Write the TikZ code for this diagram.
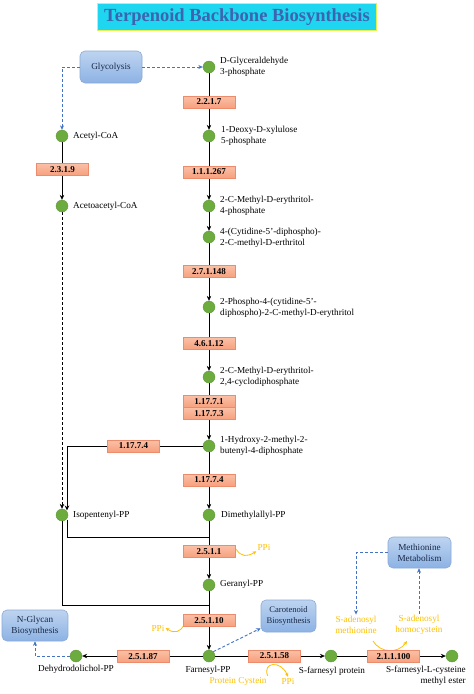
\documentclass[tikz,border=0pt]{standalone}
\usepackage{fontspec}
\setmainfont{Liberation Serif}
\usetikzlibrary{arrows.meta,calc}
\definecolor{nodegreen}{RGB}{108,172,62}
\definecolor{enzborder}{RGB}{236,140,108}
\definecolor{enztop}{RGB}{251,192,166}
\definecolor{enzbot}{RGB}{246,160,126}
\definecolor{boxborder}{RGB}{140,170,215}
\definecolor{boxtop}{RGB}{190,212,240}
\definecolor{boxbot}{RGB}{140,178,228}
\definecolor{boxtext}{RGB}{25,40,70}
\definecolor{dashblue}{RGB}{68,114,196}
\definecolor{gold}{RGB}{255,192,0}
\definecolor{titlefill}{RGB}{30,214,240}
\definecolor{titleborder}{RGB}{228,240,80}
\definecolor{titletext}{RGB}{60,100,176}
\begin{document}
\begin{tikzpicture}[x=1pt,y=-1pt,
 met/.style={circle,fill=nodegreen,draw=nodegreen!85!black,line width=0.3pt,minimum size=12pt,inner sep=0pt},
 enz/.style={rectangle,draw=enzborder,line width=0.5pt,top color=enztop,bottom color=enzbot,minimum width=52pt,minimum height=12pt,inner sep=0pt,font=\fontsize{9}{10}\selectfont\bfseries},
 lab/.style={anchor=west,align=left,inner sep=0pt,font=\fontsize{9.2}{11}\selectfont},
 clab/.style={align=center,inner sep=0pt,font=\fontsize{9.2}{11}\selectfont},
 goldlab/.style={align=center,inner sep=1pt,text=gold,font=\fontsize{9.2}{11}\selectfont},
 pbox/.style={rounded corners=5pt,draw=boxborder,line width=0.6pt,top color=boxtop,bottom color=boxbot,align=center,font=\fontsize{9.2}{11}\selectfont,text=boxtext,inner sep=0pt},
 solidarrow/.style={-{Stealth[length=5pt,width=4.5pt]},line width=0.9pt},
 plainline/.style={line width=0.9pt},
 blinkarrow/.style={-{Stealth[length=4.5pt,width=4pt]},dashblue,line width=0.9pt,dash pattern=on 3pt off 2pt},
 goldarrow/.style={-{Stealth[length=4pt,width=3.5pt]},gold,line width=0.8pt}
 ]
\useasboundingbox (0,0) rectangle (474,694);
\fill[white] (0,0) rectangle (474,694);

% title
\node[draw=titleborder,line width=1.5pt,fill=titlefill,minimum width=279pt,minimum height=27pt,inner sep=0pt,text=titletext,font=\fontsize{18.5}{20}\selectfont\bfseries] (title) at (237,17) {Terpenoid Backbone Biosynthesis};

% pathway boxes
\node[pbox,minimum width=62pt,minimum height=32pt] (gly) at (111,67) {Glycolysis};
\node[pbox,minimum width=66pt,minimum height=31pt] (ngly) at (35,625.5) {N-Glycan\\Biosynthesis};
\node[pbox,minimum width=55pt,minimum height=32pt,font=\fontsize{8.6}{11}\selectfont] (car) at (288.5,616) {Carotenoid\\Biosynthesis};
\node[pbox,minimum width=63pt,minimum height=31pt] (meth) at (419.5,552.5) {Methionine\\Metabolism};

% metabolites
\node[met] (g3p) at (209,67) {};
\node[met] (dxp) at (209,136) {};
\node[met] (mep) at (209,206) {};
\node[met] (cdpme) at (209,237) {};
\node[met] (cdpmep) at (209,307) {};
\node[met] (mecpp) at (209,377) {};
\node[met] (hmbpp) at (209,446) {};
\node[met] (dmapp) at (209,515) {};
\node[met] (gpp) at (209,585) {};
\node[met] (fpp) at (209,656) {};
\node[met] (accoa) at (62,136) {};
\node[met] (acacoa) at (62,206) {};
\node[met] (ipp) at (62,515) {};
\node[met] (ddpp) at (76,656) {};
\node[met] (sfp) at (331,656) {};
\node[met] (sflc) at (452,656) {};

% metabolite labels
\node[lab] at (220,66.5) {D-Glyceraldehyde\\3-phosphate};
\node[lab] at (221,136) {1-Deoxy-D-xylulose\\5-phosphate};
\node[lab] at (220,205.5) {2-C-Methyl-D-erythritol-\\4-phosphate};
\node[lab] at (220,237.5) {4-(Cytidine-5’-diphospho)-\\2-C-methyl-D-erthritol};
\node[lab] at (220,307.5) {2-Phospho-4-(cytidine-5’-\\diphospho)-2-C-methyl-D-erythritol};
\node[lab] at (220,377) {2-C-Methyl-D-erythritol-\\2,4-cyclodiphosphate};
\node[lab] at (220,445.5) {1-Hydroxy-2-methyl-2-\\butenyl-4-diphosphate};
\node[lab] at (221,515) {Dimethylallyl-PP};
\node[lab] at (220,584) {Geranyl-PP};
\node[lab] at (73,136) {Acetyl-CoA};
\node[lab] at (73,206) {Acetoacetyl-CoA};
\node[lab] at (73,515) {Isopentenyl-PP};
\node[clab] at (76,669.5) {Dehydrodolichol-PP};
\node[clab] at (208,670) {Farnesyl-PP};
\node[clab] at (332,671) {S-farnesyl protein};
\node[align=right,inner sep=0pt,font=\fontsize{9.2}{11}\selectfont,anchor=north east] at (466,666) {S-farnesyl-L-cysteine\\methyl ester};

% gold labels
\node[goldlab] (ppi1) at (264,547) {PPi};
\node[goldlab] (ppi2) at (158,628) {PPi};
\node[goldlab] (pcys) at (238,681) {Protein Cystein};
\node[goldlab] (ppi3) at (288,681) {PPi};
\node[goldlab] (sam) at (356,624.5) {S-adenosyl\\methionine};
\node[goldlab] (sah) at (419,624.5) {S-adenosyl\\homocystein};

% junction coordinates
\coordinate (hbend) at (67,446);
\coordinate (ippin) at (67,510.5);
\coordinate (ippout) at (67,519.5);
\coordinate (j1) at (209,537);
\coordinate (j2) at (209,605);

% main chain
\draw[solidarrow] (g3p) -- (dxp);
\draw[solidarrow] (dxp) -- (mep);
\draw[solidarrow] (mep) -- (cdpme);
\draw[solidarrow] (cdpme) -- (cdpmep);
\draw[solidarrow] (cdpmep) -- (mecpp);
\draw[solidarrow] (mecpp) -- (hmbpp);
\draw[solidarrow] (hmbpp) -- (dmapp);
\draw[solidarrow] (dmapp) -- (gpp);
\draw[solidarrow] (gpp) -- (fpp);
\draw[solidarrow] (accoa) -- (acacoa);
\draw[solidarrow,dash pattern=on 3pt off 2pt] (acacoa) -- (ipp);
\draw[solidarrow] (hmbpp.west) -- (hbend) -- (ippin);
\draw[plainline] (ippout) |- (j1);
\draw[plainline] (ipp.south) |- (j2);
\draw[solidarrow] (fpp) -- (ddpp);
\draw[solidarrow] (fpp) -- (sfp);
\draw[solidarrow] (sfp) -- (sflc);

% blue dashed links
\draw[blinkarrow] (gly) -- (g3p);
\draw[blinkarrow] (gly.west) -| (accoa.north);
\draw[blinkarrow] (fpp.north east) -- ($(car.south west)+(0,-4)$);
\draw[blinkarrow] (ddpp.west) -| (ngly.south);
\draw[blinkarrow] (meth.west) -| (sam.north);
\draw[blinkarrow] (sah.north) -- (sah.north |- meth.south);

% gold curved arrows
\draw[goldarrow] (236,549) .. controls (241,557) and (247,557) .. (ppi1.south west);
\draw[goldarrow] (184,625) .. controls (180,632) and (175,634) .. (ppi2.east);
\draw[goldarrow] (pcys.north east) .. controls (262,662) and (281,660) .. (ppi3.north);
\draw[goldarrow] (373,641) .. controls (380,653) and (398,654) .. (407,641);

% enzymes
\node[enz] at (209,102) {2.2.1.7};
\node[enz] at (209,172) {1.1.1.267};
\node[enz] at (209,271.5) {2.7.1.148};
\node[enz] at (209,343.5) {4.6.1.12};
\node[enz] at (209,401.5) {1.17.7.1};
\node[enz] at (209,413.5) {1.17.7.3};
\node[enz] at (133.5,446) {1.17.7.4};
\node[enz] at (209,480) {1.17.7.4};
\node[enz] at (209,551.5) {2.5.1.1};
\node[enz] at (209,620.5) {2.5.1.10};
\node[enz] at (62.5,169.5) {2.3.1.9};
\node[enz] at (143,656.5) {2.5.1.87};
\node[enz] at (274.5,656) {2.5.1.58};
\node[enz] at (393.5,656.5) {2.1.1.100};
\end{tikzpicture}
\end{document}
